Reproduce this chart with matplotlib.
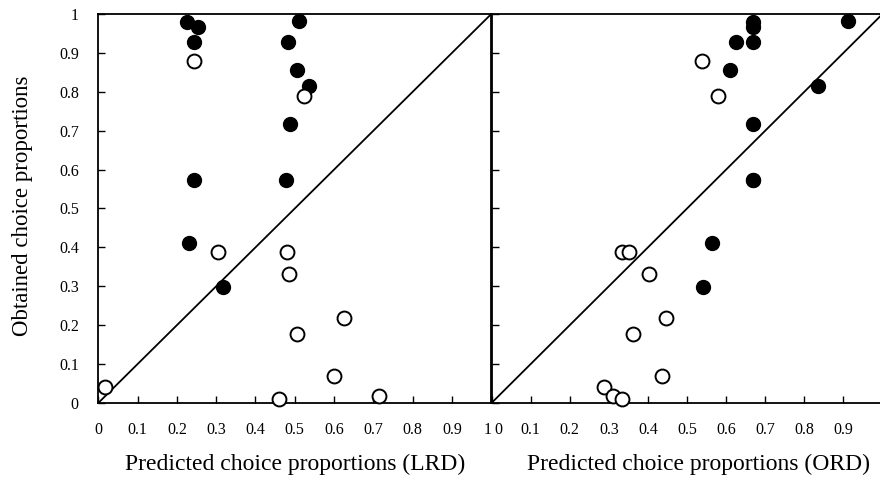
import matplotlib
matplotlib.use('Agg')
import matplotlib.pyplot as plt
import matplotlib.transforms as mtransforms

plt.rcParams['font.family'] = ['Liberation Serif', 'DejaVu Serif']

# Obtained choice proportions vs predicted (LRD model, left panel)
lrd_filled_x = [0.225, 0.254, 0.244, 0.511, 0.482, 0.505, 0.537, 0.488, 0.244, 0.477, 0.231, 0.317]
lrd_filled_y = [0.980, 0.967, 0.928, 0.982, 0.928, 0.856, 0.815, 0.716, 0.573, 0.572, 0.410, 0.299]
lrd_open_x = [0.244, 0.523, 0.305, 0.481, 0.484, 0.624, 0.506, 0.601, 0.714, 0.461, 0.017]
lrd_open_y = [0.878, 0.790, 0.387, 0.387, 0.331, 0.219, 0.176, 0.069, 0.018, 0.009, 0.042]

# ORD model, right panel
ord_filled_x = [0.669, 0.669, 0.911, 0.625, 0.669, 0.611, 0.836, 0.669, 0.669, 0.669, 0.565, 0.540]
ord_filled_y = [0.980, 0.967, 0.982, 0.928, 0.928, 0.856, 0.815, 0.716, 0.573, 0.572, 0.410, 0.299]
ord_open_x = [0.539, 0.578, 0.334, 0.352, 0.402, 0.445, 0.361, 0.435, 0.287, 0.311, 0.334]
ord_open_y = [0.878, 0.790, 0.387, 0.387, 0.331, 0.219, 0.176, 0.069, 0.042, 0.018, 0.009]

ticks = [0, 0.1, 0.2, 0.3, 0.4, 0.5, 0.6, 0.7, 0.8, 0.9, 1]
tick_labels = ['0', '0.1', '0.2', '0.3', '0.4', '0.5', '0.6', '0.7', '0.8', '0.9', '1']

fig = plt.figure(figsize=(8.8, 4.78), dpi=100, facecolor='white')
ax_l = fig.add_axes([0.1117, 0.157, 0.4466, 0.8138])
ax_r = fig.add_axes([0.5586, 0.157, 0.4443, 0.8138])

panels = [
    (ax_l, lrd_filled_x, lrd_filled_y, lrd_open_x, lrd_open_y, 'Predicted choice proportions (LRD)'),
    (ax_r, ord_filled_x, ord_filled_y, ord_open_x, ord_open_y, 'Predicted choice proportions (ORD)'),
]

for ax, fx, fy, ox, oy, xlabel in panels:
    ax.set_xlim(0, 1)
    ax.set_ylim(0, 1)
    ax.plot([0, 1], [0, 1], color='black', lw=1.3, zorder=2)
    ax.plot(fx, fy, 'o', ms=10, color='black', mec='black', zorder=3, clip_on=False)
    ax.plot(ox, oy, 'o', ms=10, mfc='white', mec='black', mew=1.4, zorder=3, clip_on=False)
    for s in ax.spines.values():
        s.set_linewidth(1.3)
    ax.tick_params(direction='in', length=5, width=1, labelsize=11.5)
    ax.tick_params(axis='x', pad=14)
    ax.set_xlabel(xlabel, fontsize=17, labelpad=11)

# left panel: y ticks and labels, x ticks up to 1
ax_l.set_xticks(ticks)
ax_l.set_xticklabels(tick_labels)
ax_l.set_yticks(ticks)
ax_l.set_yticklabels(tick_labels)
ax_l.tick_params(axis='y', pad=14)
ax_l.set_ylabel('Obtained choice proportions', fontsize=16.5)
ax_l.yaxis.set_label_coords(-0.166, 0.506)
last = ax_l.get_xticklabels()[-1]
last.set_horizontalalignment('right')

# right panel: no y labels, x ticks 0..0.9
ax_r.set_xticks(ticks[:-1])
ax_r.set_xticklabels(tick_labels[:-1])
ax_r.set_yticks(ticks)
ax_r.set_yticklabels([])
first = ax_r.get_xticklabels()[0]
first.set_horizontalalignment('left')
first.set_transform(first.get_transform() + mtransforms.ScaledTranslation(2 / 72, 0, fig.dpi_scale_trans))
ax_r.xaxis.label.set_x(0.528)
ax_r.spines['right'].set_visible(False)

plt.savefig('out.png', dpi=100, facecolor='white')
